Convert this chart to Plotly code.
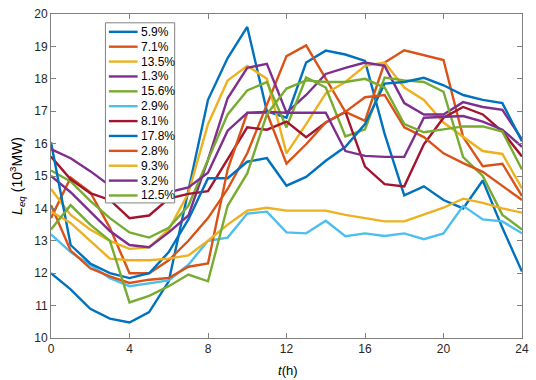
import plotly.graph_objects as go

hours = list(range(25))
x_ticks = [0, 4, 8, 12, 16, 20, 24]
y_ticks = [10, 11, 12, 13, 14, 15, 16, 17, 18, 19, 20]

labels = ["5.9%", "7.1%", "13.5%", "1.3%", "15.6%", "2.9%", "8.1%",
          "17.8%", "2.8%", "9.3%", "3.2%", "12.5%"]
colors = ["#0072BD", "#D95319", "#EDB120", "#7E2F8E", "#77AC30", "#4DBEEE",
          "#A2142F", "#0072BD", "#D95319", "#EDB120", "#7E2F8E", "#77AC30"]

s_5_9 = [12.0, 11.5, 10.9, 10.6, 10.48, 10.8, 11.75, 14.6, 17.35, 18.64, 19.6, 17.0, 16.8,
         18.5, 18.87, 18.75, 18.55, 16.3, 14.4, 14.68, 14.26, 14.0, 14.86, 13.4, 12.05]
s_7_1 = [13.7, 14.95, 14.5, 13.4, 12.0, 12.0, 12.4, 13.0, 13.7, 14.6, 15.7, 17.2, 18.7,
         19.03, 18.0, 16.98, 16.7, 18.5, 18.88, 18.73, 18.58, 16.2, 15.3, 15.38, 14.38]
s_13_5 = [14.6, 13.8, 13.35, 13.0, 12.75, 12.8, 13.35, 14.47, 16.6, 17.95, 18.4, 18.0, 15.7,
          16.6, 17.55, 17.9, 18.4, 18.5, 17.73, 17.35, 16.65, 16.2, 15.77, 15.68, 14.62]
s_1_3 = [15.0, 14.5, 13.9, 13.3, 12.87, 12.8, 13.26, 13.78, 15.5, 17.4, 18.34, 18.46, 16.95,
         17.5, 18.15, 18.34, 18.5, 18.4, 17.25, 16.9, 16.9, 17.28, 17.13, 17.04, 16.13]
s_15_6 = [15.17, 14.83, 14.23, 13.7, 13.26, 13.1, 13.4, 14.08, 15.5, 16.9, 17.64, 17.9, 16.5,
          18.04, 17.73, 16.22, 16.44, 18.04, 17.95, 17.9, 17.6, 15.58, 15.0, 13.8, 13.35]
s_2_9 = [13.2, 12.65, 12.25, 11.85, 11.6, 11.7, 11.78, 12.26, 13.0, 13.1, 13.84, 13.9, 13.26,
         13.23, 13.62, 13.14, 13.23, 13.15, 13.23, 13.05, 13.23, 14.08, 13.66, 13.6, 13.23]
s_8_1 = [15.6, 14.9, 14.47, 14.26, 13.7, 13.78, 14.3, 14.45, 14.53, 15.5, 16.5, 16.43, 16.68,
         16.2, 16.65, 16.98, 15.29, 14.75, 14.68, 15.98, 16.8, 17.13, 16.9, 16.37, 15.6]
s_17_8 = [16.04, 12.87, 12.3, 12.0, 11.85, 12.0, 12.65, 13.66, 14.93, 14.93, 15.44, 15.55, 14.7,
          14.97, 15.47, 15.9, 16.6, 17.85, 17.9, 18.03, 17.8, 17.5, 17.35, 17.25, 16.07]
s_2_8 = [14.1, 12.7, 12.15, 11.9, 11.7, 11.8, 11.85, 12.2, 12.3, 15.2, 16.95, 16.95, 15.38,
         15.98, 16.65, 16.98, 17.43, 17.5, 16.5, 16.2, 15.7, 15.4, 15.13, 14.7, 14.26]
s_9_3 = [13.9, 13.55, 13.0, 12.45, 12.4, 12.4, 12.45, 12.55, 13.0, 13.5, 13.93, 14.02, 13.93,
         13.93, 13.93, 13.8, 13.7, 13.6, 13.6, 13.8, 14.02, 14.3, 14.17, 14.0, 13.87]
s_3_2 = [15.83, 15.55, 15.15, 14.7, 14.45, 14.45, 14.5, 14.65, 15.1, 16.4, 16.95, 16.98, 16.95,
         16.95, 16.95, 15.77, 15.62, 15.59, 15.59, 16.8, 16.83, 16.85, 16.68, 16.43, 15.9]
s_12_5 = [13.35, 14.1, 13.5, 13.0, 11.1, 11.3, 11.6, 11.96, 11.75, 14.08, 15.08, 16.9, 17.7,
          17.95, 17.9, 17.9, 18.0, 17.73, 16.6, 16.35, 16.44, 16.53, 16.53, 16.37, 15.2]

series = [s_5_9, s_7_1, s_13_5, s_1_3, s_15_6, s_2_9, s_8_1,
          s_17_8, s_2_8, s_9_3, s_3_2, s_12_5]

fig = go.Figure()
for lab, col, ys in zip(labels, colors, series):
    fig.add_trace(go.Scatter(x=hours, y=ys, mode="lines", name=lab,
                             line=dict(color=col, width=2.4), showlegend=False,
                             hoverinfo="skip"))

# plot area geometry (pixels)
W, H = 536, 380
L, R, T, B = 51, 9, 7, 42
pw, ph = W - L - R, H - T - B

def px(xp):
    return (xp - L) / pw

def py(yp):
    return (H - B - yp) / ph

FONT = "Liberation Sans, Arial"
shapes = []
annotations = []
# legend box
lx0, lx1, ly0, ly1 = 106, 176, 16, 200
shapes.append(dict(type="rect", xref="paper", yref="paper", x0=px(lx0), x1=px(lx1),
                   y0=py(ly1), y1=py(ly0), line=dict(color="#808080", width=1),
                   fillcolor="white", layer="above"))
row0, step = 25.2, 15.2
for i, (lab, col) in enumerate(zip(labels, colors)):
    yy = row0 + i * step
    shapes.append(dict(type="line", xref="paper", yref="paper", x0=px(109.5), x1=px(138.5),
                       y0=py(yy), y1=py(yy), line=dict(color=col, width=2.4), layer="above"))
    annotations.append(dict(text=lab, xref="paper", yref="paper", x=px(140), y=py(yy),
                            xanchor="left", yanchor="middle", showarrow=False,
                            font=dict(size=12, color="#000000", family=FONT)))

# axis titles
annotations.append(dict(text="<i>L</i><sub><i>eq</i></sub> (10<sup>3</sup>MW)", xref="paper", yref="paper",
                        x=px(16), y=py(172), textangle=-90, showarrow=False,
                        xanchor="center", yanchor="middle",
                        font=dict(size=14, color="#000000", family=FONT)))
annotations.append(dict(text="<i>t</i>(h)", xref="paper", yref="paper",
                        x=px(291), y=py(371), showarrow=False,
                        xanchor="center", yanchor="middle",
                        font=dict(size=13, color="#000000", family=FONT)))

axis_common = dict(showline=True, linecolor="#808080", linewidth=1, mirror="ticks",
                   ticks="inside", ticklen=5, tickcolor="#808080", showgrid=False,
                   zeroline=False, tickfont=dict(size=12, color="#262626", family=FONT))

fig.update_layout(
    width=W, height=H,
    margin=dict(l=L, r=R, t=T, b=B),
    paper_bgcolor="white", plot_bgcolor="white",
    xaxis=dict(range=[0, 24], tickvals=x_ticks, ticktext=[str(v) for v in x_ticks], **axis_common),
    yaxis=dict(range=[10, 20], tickvals=y_ticks, ticktext=[str(v) for v in y_ticks], **axis_common),
    shapes=shapes, annotations=annotations, showlegend=False,
)

fig.write_html("out.html", config={"displayModeBar": False},
               post_script="document.body.style.margin='0';")
